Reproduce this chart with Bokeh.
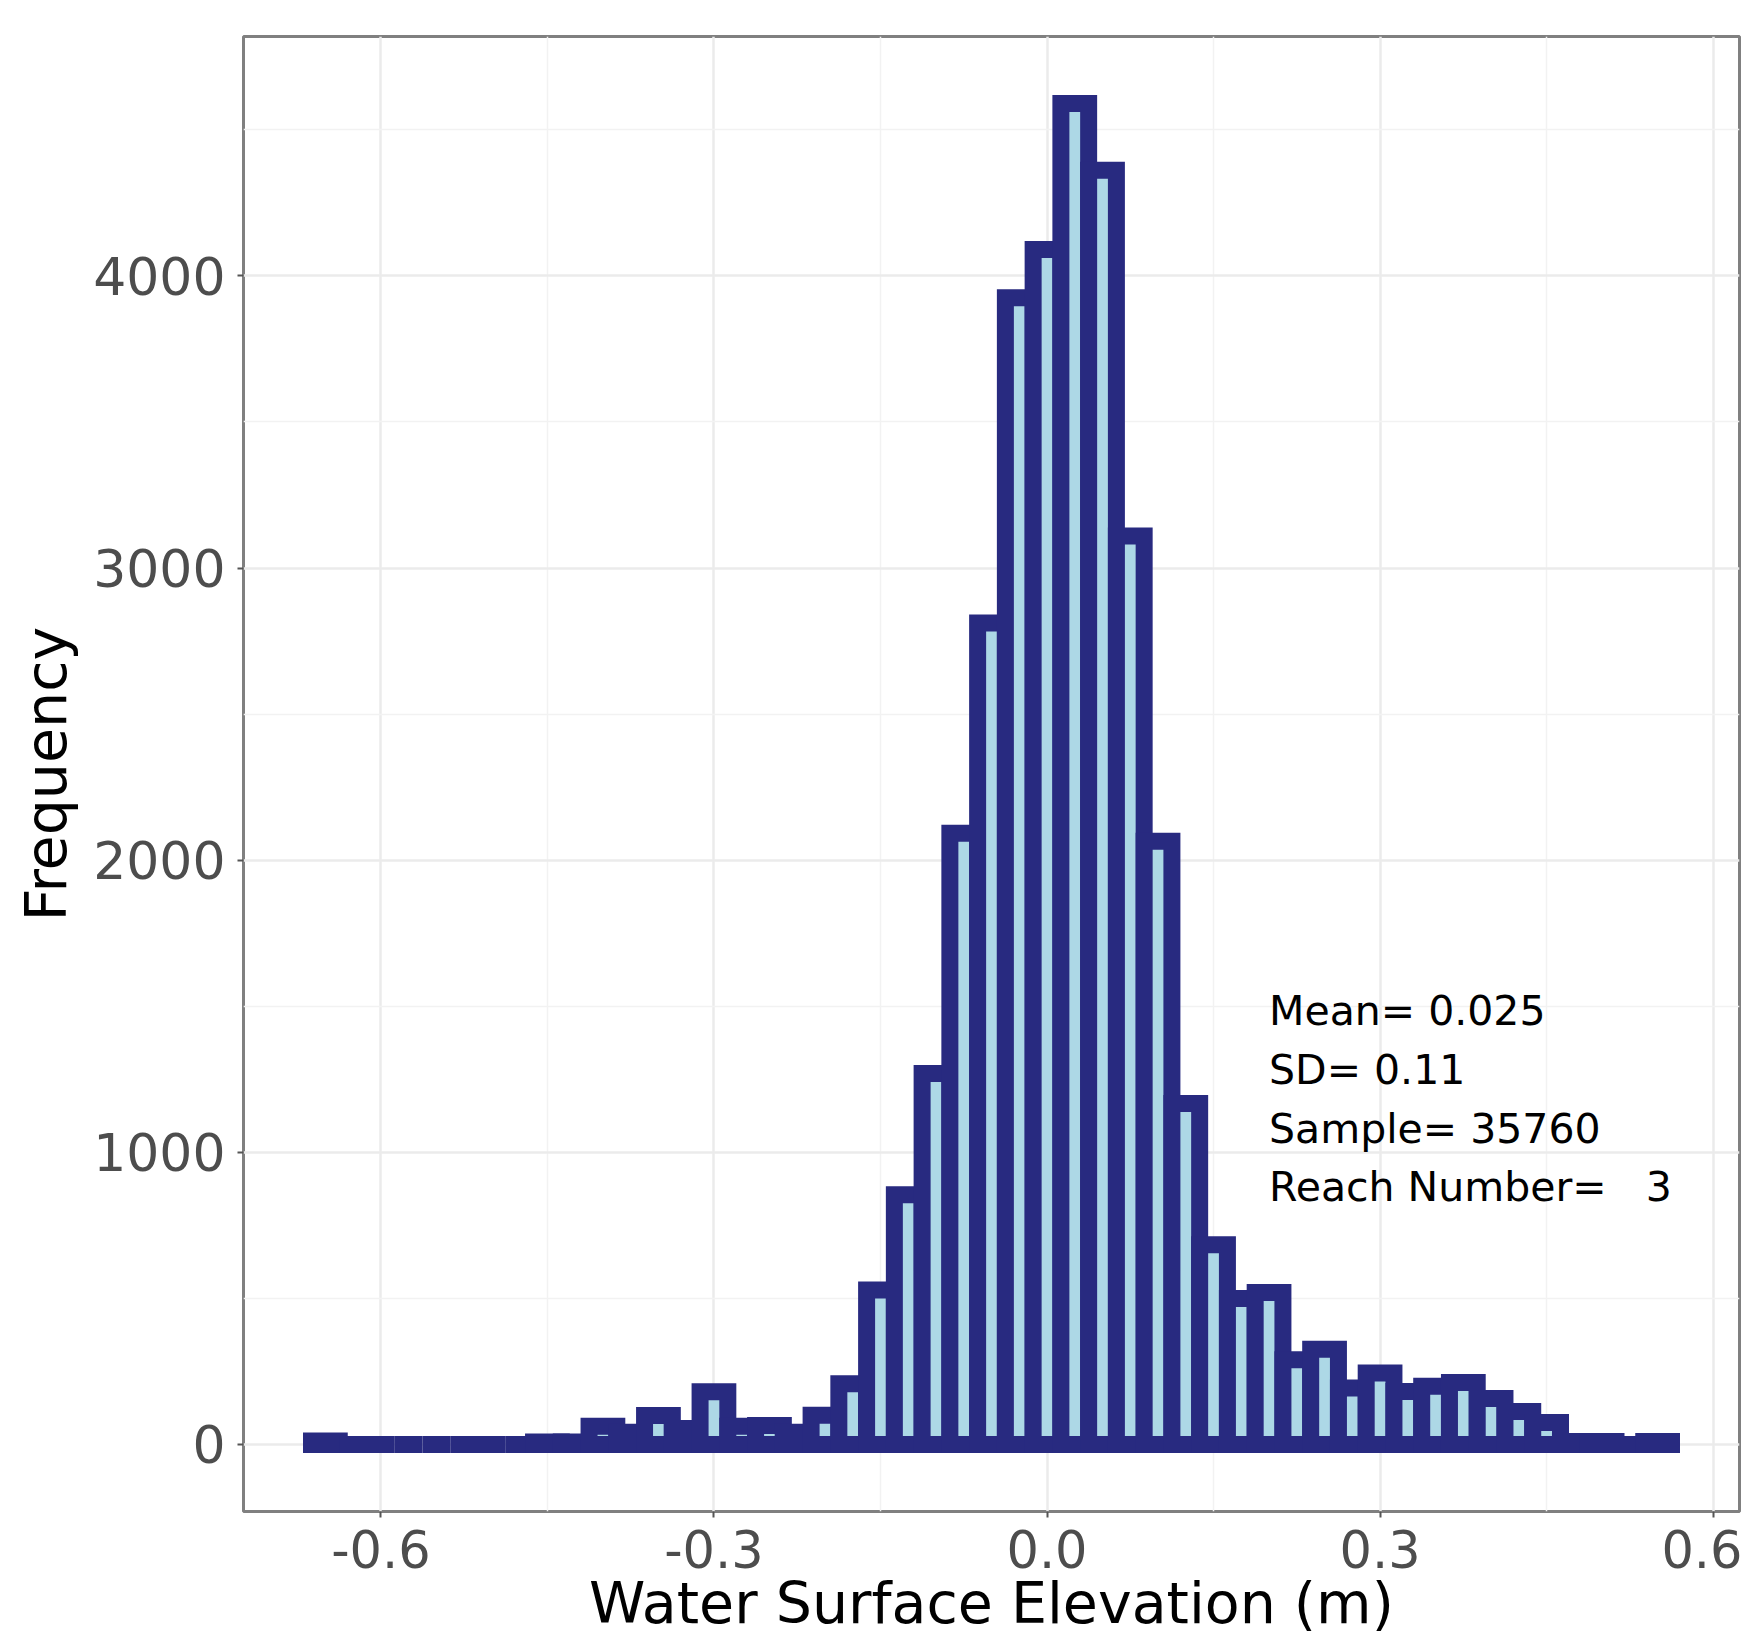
from bokeh.plotting import figure
from bokeh.models import ColumnDataSource, FixedTicker, Range1d
from bokeh.core.properties import value
from bokeh.embed import file_html
from bokeh.resources import INLINE

# ---- data (bin width 0.025 m) ----
bin_width = 0.025
bin_centers = [-0.650, -0.625, -0.600, -0.575, -0.550, -0.525, -0.500, -0.475,
               -0.450, -0.425, -0.400, -0.375, -0.350, -0.325, -0.300, -0.275,
               -0.250, -0.225, -0.200, -0.175, -0.150, -0.125, -0.100, -0.075,
               -0.050, -0.025, 0.000, 0.025, 0.050, 0.075, 0.100, 0.125,
               0.150, 0.175, 0.200, 0.225, 0.250, 0.275, 0.300, 0.325,
               0.350, 0.375, 0.400, 0.425, 0.450, 0.475, 0.500, 0.525, 0.550]
counts = [12, 0, 0, 0, 0, 0, 0, 0,
          8, 8, 62, 42, 99, 55, 180, 62,
          65, 42, 100, 208, 529, 855, 1270, 2092,
          2812, 3925, 4090, 4590, 4362, 3110, 2065, 1167,
          684, 500, 520, 290, 326, 193, 245, 181,
          199, 212, 157, 113, 75, 10, 10, 0, 10]

x_ticks = [-0.6, -0.3, 0.0, 0.3, 0.6]
x_tick_labels = {-0.6: "-0.6", -0.3: "-0.3", 0.0: "0.0", 0.3: "0.3", 0.6: "0.6"}
x_minor = [-0.75, -0.45, -0.15, 0.15, 0.45]
y_ticks = [0, 1000, 2000, 3000, 4000]
y_minor = [500, 1500, 2500, 3500, 4500]

stats_lines = ["Mean= 0.025", "SD= 0.11", "Sample= 35760",
               "Reach Number=\u00a0\u00a0\u00a03"]

x_title = "Water Surface Elevation (m)"
y_title = "Frequency"

FONT = "DejaVu Sans"
DARK = "#282A80"
LIGHT = "#ADD8E6"

# ---- figure ----
p = figure(width=1742, height=1639, output_backend="svg", toolbar_location=None,
           x_range=Range1d(-0.72375, 0.62375), y_range=Range1d(-229.5, 4819.5),
           min_border_left=243, min_border_top=36, min_border_right=3,
           min_border_bottom=128)
p.background_fill_color = "white"
p.border_fill_color = "white"
p.outline_line_color = "#808080"
p.outline_line_width = 3

left = [c - bin_width / 2 for c in bin_centers]
right = [c + bin_width / 2 for c in bin_centers]
src = ColumnDataSource(dict(left=left, right=right, top=counts,
                            bottom=[0] * len(counts)))
p.quad(left="left", right="right", top="top", bottom="bottom", source=src,
       fill_color=LIGHT, line_color=DARK, line_width=17, line_join="miter")

# stats annotation (positions in data units)
ann_x = 0.2
ann_top = 1483
ann_step = 201
ann_src = ColumnDataSource(dict(
    x=[ann_x] * len(stats_lines),
    y=[ann_top - i * ann_step for i in range(len(stats_lines))],
    t=stats_lines))
p.text(x="x", y="y", text="t", source=ann_src, text_font=value(FONT),
       text_font_size="41px", text_color="black", text_align="left",
       text_baseline="alphabetic")

# ---- axes / grid ----
xt = FixedTicker(ticks=x_ticks, minor_ticks=x_minor)
yt = FixedTicker(ticks=y_ticks, minor_ticks=y_minor)
p.xaxis.ticker = xt
p.yaxis.ticker = yt
p.xaxis.major_label_overrides = x_tick_labels
p.xgrid.ticker = xt
p.ygrid.ticker = yt
for g in (p.xgrid, p.ygrid):
    g.grid_line_color = "#EBEBEB"
    g.grid_line_width = 2.5
    g.minor_grid_line_color = "#F2F2F2"
    g.minor_grid_line_width = 1.5

for ax in (p.xaxis, p.yaxis):
    ax.axis_line_color = None
    ax.major_tick_line_color = "#555555"
    ax.major_tick_line_width = 2
    ax.major_tick_out = 6
    ax.major_tick_in = 0
    ax.minor_tick_line_color = None
    ax.major_label_text_font = FONT
    ax.major_label_text_color = "#4D4D4D"
    ax.axis_label_text_font = FONT
    ax.axis_label_text_font_size = "57px"
    ax.axis_label_text_font_style = "normal"
    ax.axis_label_text_color = "black"

p.xaxis.major_label_text_font_size = "51px"
p.yaxis.major_label_text_font_size = "52px"
p.xaxis.axis_label = x_title
p.yaxis.axis_label = y_title
p.xaxis.major_label_standoff = 12
p.yaxis.major_label_standoff = 12
p.xaxis.axis_label_standoff = -1
p.yaxis.axis_label_standoff = 11

open("out.html", "w").write(file_html(p, INLINE))
